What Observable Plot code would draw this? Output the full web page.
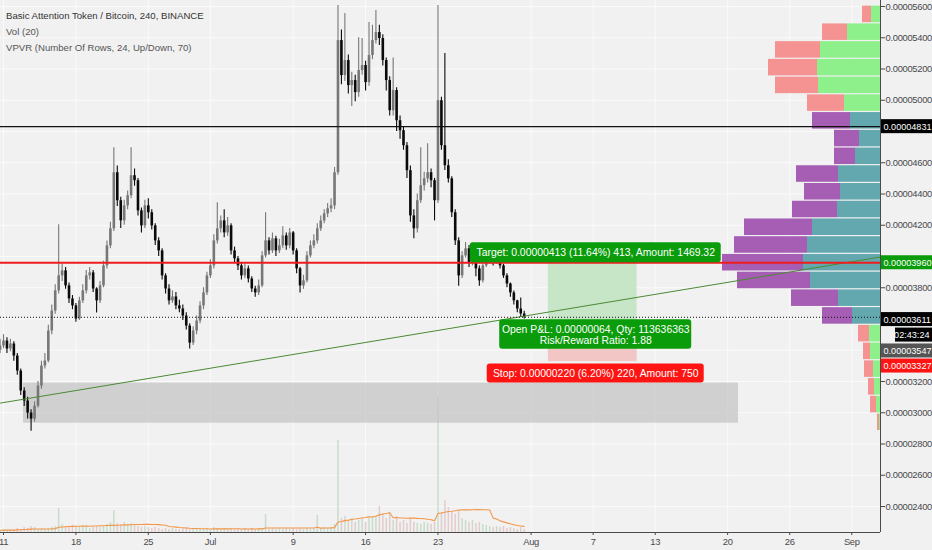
<!DOCTYPE html>
<html><head><meta charset="utf-8">
<script src="https://cdn.jsdelivr.net/npm/d3@7"></script>
<script src="https://cdn.jsdelivr.net/npm/@observablehq/plot@0.6"></script>
<style>
html,body{margin:0;padding:0;background:#f1f1f2;}
#chart{position:relative;width:932px;height:550px;background:#f1f1f2;overflow:hidden;}
#chart svg{position:absolute;left:0;top:0;}
#legend{position:absolute;left:6px;top:8px;z-index:5;font-family:"Liberation Sans",Arial,sans-serif;font-size:9.6px;line-height:16.2px;color:#555;white-space:nowrap;}
#legend .l1{color:#333;}
#chart g[aria-label="y-axis tick label"] text,
#chart g[aria-label="x-axis tick label"] text,
#chart g[aria-label="axis tag"] text{letter-spacing:-0.3px;}
</style></head><body>
<div id="chart"><div id="legend"><div class="l1">Basic Attention Token / Bitcoin, 240, BINANCE</div><div>Vol (20)</div><div>VPVR (Number Of Rows, 24, Up/Down, 70)</div></div></div>
<script>
// ---------- data (prices in satoshi, 1e-8 BTC) ----------
const candleStart = "2018-06-10T16:00Z";   // first candle, 8h apart
const firstOpen = 3400;
const closes = [3427,3459,3408,3440,3363,3267,3139,3075,2998,2959,
 3042,3171,3299,3331,3523,3651,3780,3876,3908,3812,
 3728,3684,3600,3716,3780,3876,3895,3792,3716,3812,
 3940,4068,4177,4536,4357,4228,4324,4389,4517,4485,
 4292,4196,4324,4280,4196,4100,4036,3876,3792,3716,
 3741,3684,3664,3619,3555,3446,3523,3587,3684,3767,
 3876,3940,4100,4177,4228,4151,4196,4036,3985,3940,
 3876,3921,3856,3792,3767,3812,4004,4100,4036,4113,
 4036,4068,4132,4068,4151,4036,3921,3812,3844,4004,
 4068,4100,4177,4228,4273,4305,4324,4536,5382,5158,
 5254,5094,5126,5049,5190,5222,5113,5286,5382,5433,
 5395,5254,5126,4933,5062,4869,4805,4709,4549,4260,
 4177,4357,4453,4497,4536,4485,4357,4997,4709,4581,
 4497,4280,4100,3876,4004,4049,3959,4036,3921,3844,
 3940,3972,3985,3959,3978,3940,3876,3824,3767,3716,
 3664,3632,3611];
const highs = [3470,3500,3480,3470,3455,3380,3280,3160,3100,3020,
 3070,3200,3330,3380,3560,3690,3820,4203,3950,3930,
 3830,3750,3700,3740,3820,3910,3930,3910,3800,3840,
 3970,4100,4220,4696,4580,4380,4360,4420,4696,4560,
 4500,4310,4360,4370,4300,4210,4120,4050,3890,3820,
 3780,3770,3720,3690,3640,3570,3550,3620,3710,3800,
 3900,3980,4140,4344,4260,4300,4250,4210,4060,4000,
 3960,3950,3940,3870,3810,3850,4030,4280,4120,4150,
 4130,4110,4190,4150,4180,4160,4050,3930,3880,4030,
 4100,4140,4210,4260,4300,4340,4370,4570,5606,5450,
 5555,5290,5180,5160,5400,5395,5250,5497,5480,5574,
 5480,5420,5270,5150,5270,5080,4900,4830,4730,4580,
 4300,4400,4696,4540,4722,4560,4500,5606,5020,5299,
 4620,4510,4300,4120,4030,4090,4070,4060,4050,3940,
 3970,4000,4010,4000,4010,3990,3950,3890,3830,3780,
 3720,3735,3650];
const lows = [3380,3410,3380,3390,3330,3240,3110,3040,2960,2882,
 2940,3030,3150,3280,3320,3500,3630,3760,3840,3790,
 3700,3660,3580,3590,3700,3760,3850,3770,3639,3700,
 3800,3920,4050,4160,4320,4180,4200,4300,4370,4450,
 4260,4150,4180,4240,4170,4070,4000,3850,3760,3690,
 3700,3660,3640,3590,3530,3408,3430,3500,3570,3660,
 3750,3860,3920,4080,4150,4120,4130,4010,3960,3910,
 3850,3860,3830,3770,3740,3750,3800,3990,4010,4020,
 4000,4020,4050,4040,4050,4010,3890,3767,3790,3830,
 3990,4050,4080,4160,4210,4250,4280,4300,4520,5100,
 5120,5040,4960,4990,5020,5160,5060,5090,5260,5360,
 5350,5220,5060,4900,4900,4800,4750,4680,4500,4220,
 4113,4150,4340,4420,4470,4440,4228,4340,4680,4550,
 4470,4250,4070,3810,3860,3990,3930,3940,3870,3810,
 3830,3930,3950,3940,3950,3920,3860,3800,3740,3690,
 3640,3611,3600];
const volumes = [2,3,2,3,2,4,3,5,4,6,
 5,3,4,3,4,5,6,24,8,6,
 5,7,6,5,6,5,4,5,6,5,
 6,8,10,22,9,8,10,7,9,8,
 6,5,6,5,4,5,4,3,4,3,
 4,3,3,4,5,3,4,3,4,3,
 4,3,5,4,3,4,3,4,3,4,
 3,4,3,4,3,4,4,18,3,4,
 3,4,3,4,3,4,3,4,3,4,
 3,4,17,4,5,4,5,8,92,14,
 16,12,14,10,12,13,10,14,16,16,
 26,18,14,20,12,16,10,12,9,14,
 10,9,8,10,9,8,10,135,20,32,
 25,20,18,22,14,12,10,12,9,10,
 8,7,6,5,6,5,6,4,5,4,
 3,5,3];
// Volume profile rows, top (highest price) to bottom
const vpUp   = [9,33,60,63,62,36,30,21,25,42,40,43,68,73,77,70,42,28,11,10,7,6,4,1];
const vpDown = [9,25,45,49,43,37,38,25,21,42,36,45,68,73,81,73,47,30,11,7,9,6,6,2];
const valueAreaRows = [6, 17];

const resistance = 4831;
const currentPrice = 3611;
const entryPrice = 3547, targetPrice = 3960, stopPrice = 3327;
const positionSpan = ["2018-08-02T16:00Z", "2018-08-11T06:00Z"];
const zoneBox = {start: "2018-06-12T22:20Z", end: "2018-08-21T01:10Z", low: 2933, high: 3190};
const trendPoints = [{date: "2018-06-10T17:02Z", price: 3062}, {date: "2018-09-03T18:39Z", price: 3997}];
const countdown = "02:43:24";
const targetText = "Target: 0.00000413 (11.64%) 413, Amount: 1469.32";
const pnlText = "Open P&L: 0.00000064, Qty: 113636363\nRisk/Reward Ratio: 1.88";
const stopText = "Stop: 0.00000220 (6.20%) 220, Amount: 750";

const gridPrices = d3.range(2400, 5601, 200);
const axisPrices = [2400,2600,2800,3000,3200,3800,4200,4400,4600,5000,5200,5400,5600];
const dateTicks = ["2018-06-11","2018-06-18","2018-06-25","2018-07-01","2018-07-09","2018-07-16","2018-07-23","2018-08-01","2018-08-07","2018-08-13","2018-08-20","2018-08-26","2018-09-01"];
const dateLabels = ["11","18","25","Jul","9","16","23","Aug","7","13","20","26","Sep"];

// ---------- setup ----------
const W = 932, H = 550;
const M = {marginLeft: 0, marginRight: 52, marginTop: 0, marginBottom: 18};
const xDomain = [new Date("2018-06-10T17:02Z"), new Date("2018-09-03T18:39Z")];
const yDomain = [2233.6, 5638.4];
const xEnd = xDomain[1];
const AXFONT = '"Liberation Sans",Arial,sans-serif';
const BOXFONT = '"Liberation Sans",Arial,sans-serif';
const fmt = d => (d / 1e8).toFixed(8);
const tickDates = dateTicks.map(d => new Date(d + "T00:00Z"));
const labelOf = new Map(tickDates.map((d, i) => [+d, dateLabels[i]]));

const t0 = Date.parse(candleStart), H8 = 8 * 3600e3;
const candles = closes.map((c, i) => {
  const open = i ? closes[i - 1] : firstOpen;
  return {t: new Date(t0 + i * H8), open, close: c, high: highs[i], low: lows[i], vol: volumes[i], up: c >= open};
});
const trend = trendPoints.map(d => ({date: new Date(d.date), price: d.price}));
const pos = {start: new Date(positionSpan[0]), end: new Date(positionSpan[1])};
const posMid = new Date((+pos.start + +pos.end) / 2);
const zone = {start: new Date(zoneBox.start), end: new Date(zoneBox.end), low: zoneBox.low, high: zoneBox.high};

const UP = "#777777", DOWN = "#0a0a0a";
const base = {width: W, height: H, ...M};
const chart = document.getElementById("chart");
const legend = document.getElementById("legend");
function add(svg) { chart.insertBefore(svg, legend); }

// ---------- layer 1: grid ----------
add(Plot.plot({
  ...base,
  x: {type: "utc", domain: xDomain, axis: null},
  y: {domain: yDomain, axis: null},
  style: {background: "#f1f1f2"},
  marks: [
    Plot.gridY(gridPrices, {stroke: "#fafafa", strokeOpacity: 1}),
    Plot.gridX(tickDates, {stroke: "#fafafa", strokeOpacity: 1})
  ]
}));

// ---------- layer 2: volume profile ----------
const vLo = d3.min(lows), vHi = d3.max(highs), step = (vHi - vLo) / vpUp.length;
const vpRows = vpUp.map((u, k) => ({
  top: vHi - k * step, bottom: vHi - (k + 1) * step, up: u, down: vpDown[k],
  va: k >= valueAreaRows[0] && k <= valueAreaRows[1]
}));
add(Plot.plot({
  ...base,
  x: {domain: [0, 880], reverse: true, axis: null},
  y: {domain: yDomain, axis: null},
  style: {background: "transparent"},
  marks: [
    Plot.rect(vpRows, {x1: () => 0, x2: "up", y1: "bottom", y2: "top", insetTop: 0.6, insetBottom: 0.6,
      fill: d => d.va ? "#62a8ae" : "#8ef08a"}),
    Plot.rect(vpRows, {x1: "up", x2: d => d.up + d.down, y1: "bottom", y2: "top", insetTop: 0.6, insetBottom: 0.6,
      fill: d => d.va ? "#a65db4" : "#f59393"})
  ]
}));

// ---------- layer 3: volume ----------
add(Plot.plot({
  ...base,
  x: {type: "utc", domain: xDomain, axis: null},
  y: {domain: [0, 532], axis: null},
  style: {background: "transparent"},
  marks: [
    Plot.ruleX(candles, {x: "t", y1: () => 0, y2: "vol", strokeWidth: 1.5,
      stroke: d => d.up ? "#c9dccb" : "#e3cccc"}),
    Plot.lineY(candles, Plot.windowY({k: 16, anchor: "end"}, {x: "t", y: "vol", stroke: "#f39748", strokeWidth: 1.1}))
  ]
}));

// ---------- helpers for boxed labels ----------
function tag(price, text, fill, {dy = 0, left = 1, h = 14, anchor = "start"} = {}) {
  return [
    Plot.rect([price], {x1: () => xEnd, x2: () => xEnd, y1: d => d, y2: d => d,
      insetLeft: left, insetRight: -52, insetTop: -h / 2, insetBottom: -h / 2, dy, fill}),
    Plot.text([price], {x: () => xEnd, y: d => d, text: () => text, dy, ariaLabel: "axis tag",
      dx: anchor === "start" ? 3 : 49, textAnchor: anchor, fill: "#fff", fontSize: 9.1, fontFamily: AXFONT})
  ];
}
function box(price, text, fill, {half, top, bottom, tdy, lh = 1}) {
  return [
    Plot.rect([price], {x1: () => posMid, x2: () => posMid, y1: d => d, y2: d => d, dx: 3,
      insetLeft: -half, insetRight: -half, insetTop: top, insetBottom: bottom, rx: 3, fill}),
    Plot.text([price], {x: () => posMid, y: d => d, text: () => text, dx: 3, dy: tdy, lineHeight: lh,
      fill: "#fff", fontSize: 10.4, fontFamily: BOXFONT})
  ];
}

// ---------- layer 4: price chart ----------
add(Plot.plot({
  ...base,
  x: {type: "utc", domain: xDomain},
  y: {domain: yDomain},
  style: {background: "transparent", fontFamily: AXFONT, fontSize: "9.4px"},
  marks: [
    Plot.rect([zone], {x1: "start", x2: "end", y1: "low", y2: "high", fill: "#c3c3c3", fillOpacity: 0.72}),
    Plot.rect([pos], {x1: "start", x2: "end", y1: () => entryPrice, y2: () => targetPrice, fill: "#c7e5c7"}),
    Plot.rect([pos], {x1: "start", x2: "end", y1: () => stopPrice, y2: () => entryPrice, fill: "#f3c6c6"}),
    Plot.ruleX(candles, {x: "t", y1: "low", y2: "high", stroke: d => d.up ? UP : DOWN, strokeWidth: 1.1}),
    Plot.ruleX(candles, {x: "t", y1: "open", y2: "close", stroke: d => d.up ? UP : DOWN, strokeWidth: 2.6}),
    Plot.line(trend, {x: "date", y: "price", stroke: "#4b8a34", strokeWidth: 1}),
    Plot.ruleY([resistance], {stroke: "#111", strokeWidth: 1.2}),
    Plot.ruleY([targetPrice], {stroke: "#ee1c1c", strokeWidth: 2}),
    Plot.ruleY([currentPrice], {stroke: "#111", strokeWidth: 1, strokeDasharray: "1,2"}),
    ...box(targetPrice, targetText, "#0a9c0a", {half: 125.5, top: -20, bottom: 0, tdy: -10}),
    ...box(entryPrice, pnlText, "#0a9c0a", {half: 96, top: -7.5, bottom: -22, tdy: 7.5, lh: 1.07}),
    ...box(stopPrice, stopText, "#ff1414", {half: 108.5, top: 2.4, bottom: -21.4, tdy: 12}),
    Plot.ruleX([xEnd], {stroke: "#4a4a4a"}),
    Plot.ruleY([yDomain[0]], {stroke: "#4a4a4a"}),
    Plot.axisY({anchor: "right", ticks: axisPrices, tickFormat: fmt, tickSize: 4, tickPadding: 1, color: "#4a4a4a"}),
    Plot.axisX({anchor: "bottom", ticks: tickDates, tickFormat: d => labelOf.get(+d), tickSize: 3, tickPadding: 3, color: "#4a4a4a"}),
    ...tag(resistance, fmt(resistance), "#000"),
    ...tag(targetPrice, fmt(targetPrice), "#0a9c0a"),
    ...tag(currentPrice, fmt(currentPrice), "#000", {dy: 2.3}),
    ...tag(currentPrice, countdown, "#000", {dy: 17.8, left: 15, anchor: "end"}),
    ...tag(entryPrice, fmt(entryPrice), "#555", {dy: 23.7}),
    ...tag(stopPrice, fmt(stopPrice), "#ff1414", {dy: 4.4})
  ]
}));
</script>
</body></html>
